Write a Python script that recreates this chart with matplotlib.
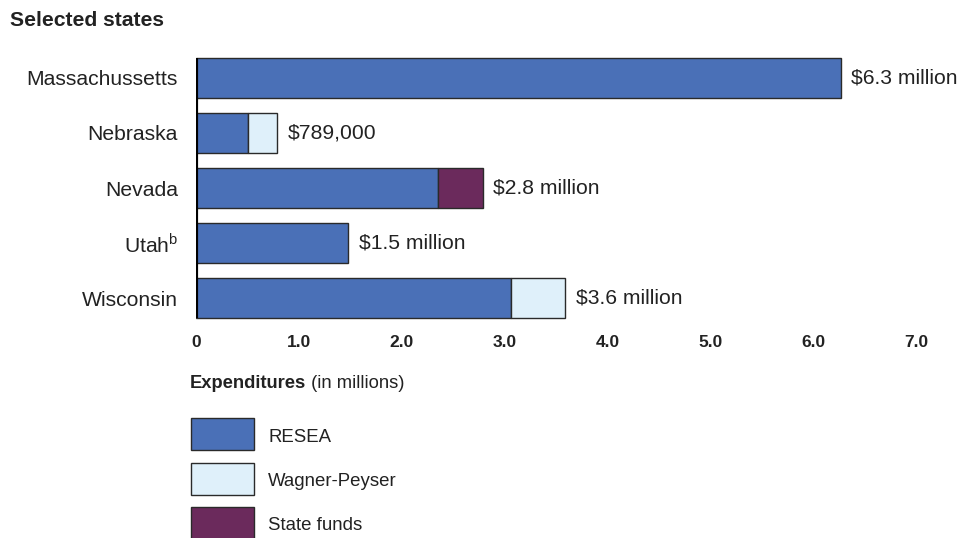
import matplotlib
matplotlib.use("Agg")
import matplotlib.pyplot as plt
from matplotlib.patches import Rectangle

plt.rcParams['font.family'] = ['Liberation Sans', 'DejaVu Sans']
plt.rcParams['mathtext.fontset'] = 'custom'
plt.rcParams['mathtext.rm'] = 'Liberation Sans'

# data (millions of dollars)
states = ['Massachussetts', 'Nebraska', 'Nevada', 'Utah$^{\\mathrm{b}}$', 'Wisconsin']
resea = [6.27, 0.51, 2.35, 1.48, 3.06]
wagner_peyser = [0.0, 0.279, 0.0, 0.0, 0.53]
state_funds = [0.0, 0.0, 0.44, 0.0, 0.0]
totals_text = ['$6.3 million', '$789,000', '$2.8 million', '$1.5 million', '$3.6 million']
series_names = ['RESEA', 'Wagner-Peyser', 'State funds']
x_ticks = [0, 1, 2, 3, 4, 5, 6, 7]
x_tick_labels = ['0', '1.0', '2.0', '3.0', '4.0', '5.0', '6.0', '7.0']

COLORS = ['#4a70b7', '#dff0fa', '#6b2a5c']
EDGE = '#2a2a2a'
TEXT = '#222222'
BAR_H = 0.73
LABEL_FS = 15.2

W, H = 974, 538
fig = plt.figure(figsize=(W / 100, H / 100), dpi=100)
ax = fig.add_axes([196 / W, 1 - 325.5 / H, 720 / W, 275 / H])

ypos = list(range(len(states)))
left = [0.0] * len(states)
for vals, col in zip([resea, wagner_peyser, state_funds], COLORS):
    keep = [i for i, v in enumerate(vals) if v > 0]
    ax.barh([ypos[i] for i in keep], [vals[i] for i in keep], left=[left[i] for i in keep],
            height=BAR_H, color=col, edgecolor=EDGE, linewidth=1.0, zorder=2)
    left = [l + v for l, v in zip(left, vals)]

for y, total, txt in zip(ypos, left, totals_text):
    ax.annotate(txt, xy=(total, y), xytext=(7.5, 0), textcoords='offset points',
                va='center', ha='left', fontsize=LABEL_FS, color=TEXT, annotation_clip=False)

# thick baseline
ax.vlines(0, -BAR_H / 2, len(states) - 1 + BAR_H / 2, color='black', linewidth=3.0, zorder=3)

ax.set_xlim(0, 7)
ax.set_ylim(len(states) - 0.5, -0.5)
ax.set_yticks(ypos)
ax.set_yticklabels(states, fontsize=LABEL_FS, color=TEXT)
ax.set_xticks(x_ticks)
ax.set_xticklabels(x_tick_labels, fontsize=12.5, fontweight='bold', color=TEXT)
ax.tick_params(axis='y', length=0, pad=13)
ax.tick_params(axis='x', length=0, pad=6.5)
for s in ax.spines.values():
    s.set_visible(False)

fig.text(10 / W, 1 - 20 / H, 'Selected states', fontsize=15.2, fontweight='bold',
         color=TEXT, va='center', ha='left')

t1 = fig.text(190 / W, 1 - 383 / H, 'Expenditures', fontsize=13.2, fontweight='bold',
              color=TEXT, va='center', ha='left')
ax.annotate(' (in millions)', xy=(1, 0.5), xycoords=t1, va='center', ha='left',
            fontsize=13.2, color=TEXT)

# legend
for i, (name, col) in enumerate(zip(series_names, COLORS)):
    top = 418 + i * 44.5
    fig.patches.append(Rectangle((191 / W, 1 - (top + 32) / H), 63 / W, 32 / H,
                                 transform=fig.transFigure, facecolor=col,
                                 edgecolor=EDGE, linewidth=1.0))
    fig.text(268 / W, 1 - (top + 19) / H, name, fontsize=13.4, color=TEXT,
             va='center', ha='left')

fig.savefig('out.png', dpi=100)
